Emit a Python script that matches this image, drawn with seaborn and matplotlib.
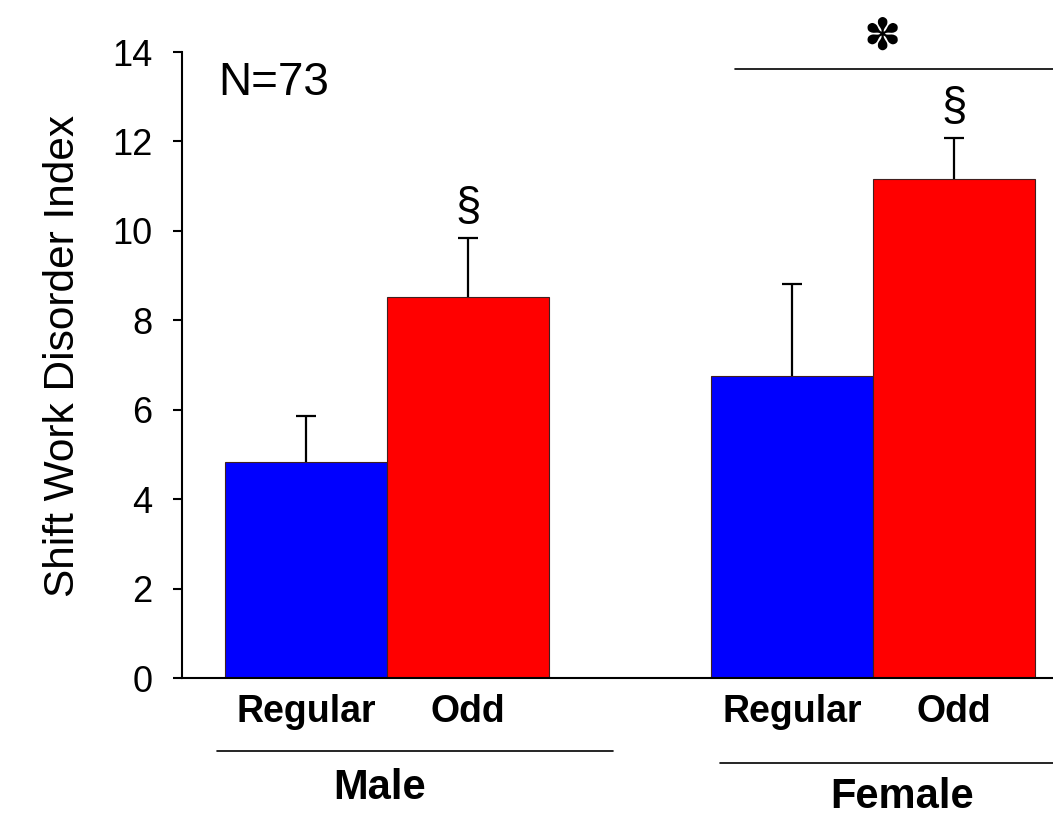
import matplotlib
matplotlib.use("Agg")
import matplotlib.pyplot as plt
import pandas as pd
import seaborn as sns

# Data
sexes = ["Male", "Female"]
shifts = ["Regular", "Odd"]
mean_regular = [4.84, 6.76]
mean_odd = [8.51, 11.16]
sem_regular = [1.02, 2.06]
sem_odd = [1.32, 0.92]
colors = {"Regular": "#0000ff", "Odd": "#ff0000"}

df = pd.DataFrame({
    "sex": sexes * 2,
    "shift": ["Regular"] * 2 + ["Odd"] * 2,
    "value": mean_regular + mean_odd,
})

sns.set_style("ticks")
plt.rcParams["font.family"] = ["Liberation Sans", "DejaVu Sans"]
plt.rcParams["text.color"] = "black"
plt.rcParams["axes.labelcolor"] = "black"

fig = plt.figure(figsize=(10.53, 8.18), dpi=100)
ax = fig.add_axes([182 / 1053, 140 / 818, (1053 - 182) / 1053, 626 / 818])

sns.barplot(data=df, x="sex", y="value", hue="shift", order=sexes,
            hue_order=shifts, palette=colors, saturation=1, width=0.667,
            errorbar=None, edgecolor="#402020", linewidth=0.8, legend=False,
            ax=ax)

# upper-only error bars (no cap at the bar top)
for container, errs in zip(ax.containers, [sem_regular, sem_odd]):
    for bar, e in zip(container, errs):
        xc = bar.get_x() + bar.get_width() / 2
        h = bar.get_height()
        eb = ax.errorbar(xc, h, yerr=[[0], [e]], fmt="none", ecolor="black",
                         elinewidth=1.6, capsize=7.2, capthick=1.6, zorder=3)
        eb.lines[1][0].set_visible(False)

# shift labels under each bar
for container, name in zip(ax.containers, shifts):
    for bar in container:
        xc = bar.get_x() + bar.get_width() / 2
        ax.text(xc, -0.055, name, transform=ax.get_xaxis_transform(),
                ha="center", va="center", fontsize=27, fontweight="bold",
                clip_on=False)

# section marks above the odd bars
for bar, e in zip(ax.containers[1], sem_odd):
    xc = bar.get_x() + bar.get_width() / 2
    ax.text(xc, bar.get_height() + e + 0.2, "§", ha="center", va="bottom",
            fontsize=33)

ax.set_ylim(0, 14)
ax.set_xlim(-0.422, 1.370)
ax.set_yticks(range(0, 15, 2))
ax.set_xticks([])
ax.set_xlabel("")
ax.set_ylabel("Shift Work Disorder Index", fontsize=30.5)
ax.yaxis.set_label_coords(-0.114, 0.514)
ax.tick_params(axis="y", labelsize=26, length=6.5, width=1.5, pad=15,
               colors="black")
for side in ["top", "right"]:
    ax.spines[side].set_visible(False)
for side in ["left", "bottom"]:
    ax.spines[side].set_linewidth(1.5)
    ax.spines[side].set_color("black")

trans = ax.get_xaxis_transform()
# group underlines and labels
ax.plot([-0.35, 0.465], [-0.1166, -0.1166], color="black", lw=1.2,
        transform=trans, clip_on=False)
ax.text(-0.015, -0.1757, "Male", transform=trans, ha="center", va="center",
        fontsize=30, fontweight="bold")
ax.plot([0.685, 1.5], [-0.1358, -0.1358], color="black", lw=1.2,
        transform=trans, clip_on=False)
ax.text(1.059, -0.19, "Female", transform=trans, ha="center", va="center",
        fontsize=30, fontweight="bold")

# significance between female groups
ax.plot([0.716, 1.5], [0.973, 0.973], color="black", lw=1.2,
        transform=trans, clip_on=False)
ax.text(1.019, 1.024, "✽", transform=trans, ha="center", va="center",
        fontsize=32, family=["DejaVu Sans"], clip_on=False)

ax.text(0.042, 0.985, "N=73", transform=ax.transAxes, ha="left", va="top",
        fontsize=33)

fig.savefig("out.png", dpi=100)
